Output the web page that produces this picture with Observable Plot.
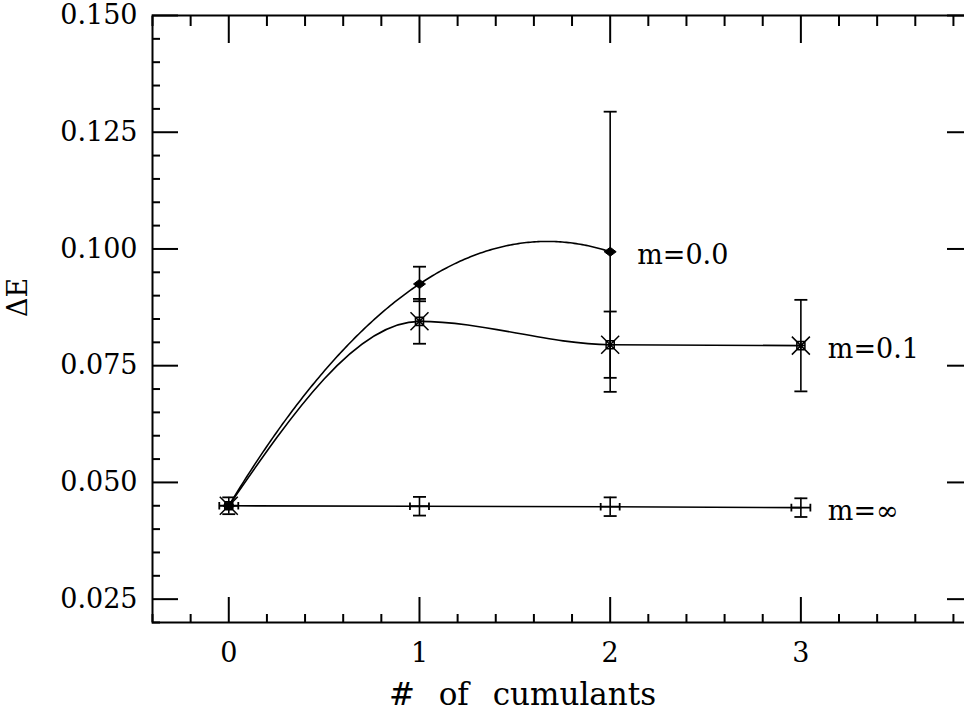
<!DOCTYPE html>
<html><head><meta charset="utf-8">
<script src="https://cdn.jsdelivr.net/npm/d3@7"></script>
<script src="https://cdn.jsdelivr.net/npm/@observablehq/plot@0.6"></script>
<style>html,body{margin:0;padding:0;background:#fff;overflow:hidden;width:964px;height:719px}</style>
</head><body><div id="chart"></div>
<script>
// ---- data ----
const cumulants = [0, 1, 2, 3];
const seriesNames = ["m=0.0", "m=0.1", "m=\u221E"];
const dE_m00 = [0.045, 0.0925, 0.0994];
const err_m00 = [0, 0.0037, 0.0300];
const dE_m01 = [0.045, 0.0845, 0.0795, 0.0793];
const err_m01 = [0, 0.0048, 0.0071, 0.0098];
const dE_minf = [0.045, 0.0449, 0.0448, 0.0446];
const err_minf = [0.0018, 0.0020, 0.0020, 0.0020];
const xMajorTicks = [0, 1, 2, 3];
const yMajorTicks = [0.025, 0.050, 0.075, 0.100, 0.125, 0.150];
const xTitle = "# of cumulants";
const yTitle = "\u0394E";

// ---- derived tables ----
const rows = (name, vals, errs) => vals.map((v, i) => ({series: name, x: cumulants[i], y: v, err: errs[i]}));
const s00 = rows(seriesNames[0], dE_m00, err_m00);
const s01 = rows(seriesNames[1], dE_m01, err_m01);
const sinf = rows(seriesNames[2], dE_minf, err_minf);
const all = [...s00, ...s01, ...sinf];
const withErr = all.filter(d => d.err > 0);
const caps = withErr.flatMap(d => [{x: d.x, y: d.y - d.err}, {x: d.x, y: d.y + d.err}]);
const lastPoints = [s00, s01, sinf].map(s => s[s.length - 1]);
const xMinorTicks = d3.range(-2, 20).map(k => k / 5).filter(v => !Number.isInteger(v));
const yMinorTicks = d3.range(4, 31).filter(k => k % 5 !== 0).map(k => k / 200);

// ---- custom curve: polynomial through all points ----
function polyCurve(context) {
  let xs = [], ys = [];
  return {
    areaStart() {}, areaEnd() {},
    lineStart() { xs = []; ys = []; },
    point(x, y) { xs.push(+x); ys.push(+y); },
    lineEnd() {
      const n = xs.length;
      if (!n) return;
      const L = t => {
        let s = 0;
        for (let i = 0; i < n; i++) {
          let p = ys[i];
          for (let j = 0; j < n; j++) if (j !== i) p *= (t - xs[j]) / (xs[i] - xs[j]);
          s += p;
        }
        return s;
      };
      context.moveTo(xs[0], ys[0]);
      const a = xs[0], b = xs[n - 1];
      const steps = Math.max(1, Math.ceil(Math.abs(b - a) / 2));
      for (let k = 1; k <= steps; k++) {
        const t = a + (b - a) * k / steps;
        context.lineTo(t, L(t));
      }
    }
  };
}

// ---- custom symbols ----
const rad = size => Math.sqrt(size / Math.PI);
const diamondWide = {draw(c, size) { const r = rad(size), h = r * 0.75; c.moveTo(-r, 0); c.lineTo(0, -h); c.lineTo(r, 0); c.lineTo(0, h); c.closePath(); }};
const squareX = {draw(c, size) { const r = rad(size), s = r * 0.45;
  c.moveTo(-s, -s); c.lineTo(s, -s); c.lineTo(s, s); c.lineTo(-s, s); c.closePath();
  c.moveTo(-s, 0); c.lineTo(s, 0); c.moveTo(0, -s); c.lineTo(0, s);
  c.moveTo(-r, -r); c.lineTo(r, r); c.moveTo(-r, r); c.lineTo(r, -r); }};
const hSerif = {draw(c, size) { const r = rad(size), h = r * 0.4;
  c.moveTo(-r, 0); c.lineTo(r, 0); c.moveTo(-r, -h); c.lineTo(-r, h); c.moveTo(r, -h); c.lineTo(r, h); }};
const hCap = {draw(c, size) { const r = rad(size); c.moveTo(-r, 0); c.lineTo(r, 0); }};

const FONT = "DejaVu Serif";
const chart = Plot.plot({
  width: 975, height: 719,
  marginLeft: 152, marginRight: 3, marginTop: 15, marginBottom: 97,
  style: {fontFamily: FONT, fontSize: "27px", background: "#fff", color: "#000"},
  x: {domain: [-0.4, 3.9], axis: null},
  y: {domain: [0.020, 0.150], axis: null},
  marks: [
    // axes: ticks inward on all four sides
    Plot.axisX(xMajorTicks, {anchor: "bottom", tickSize: -25, tickPadding: 45, tickFormat: d => String(d), label: null, fontSize: 27, strokeWidth: 2}),
    Plot.axisX(xMinorTicks, {anchor: "bottom", tickSize: -8, tickFormat: () => "", label: null, strokeWidth: 2}),
    Plot.axisX(xMajorTicks, {anchor: "top", tickSize: -27, tickFormat: () => "", label: null, strokeWidth: 2}),
    Plot.axisX(xMinorTicks, {anchor: "top", tickSize: -10, tickFormat: () => "", label: null, strokeWidth: 2}),
    Plot.axisY(yMajorTicks, {anchor: "left", tickSize: -26, tickPadding: 41, tickFormat: d3.format(".3f"), label: null, fontSize: 27, strokeWidth: 2}),
    Plot.axisY(yMinorTicks, {anchor: "left", tickSize: -8, tickFormat: () => "", label: null, strokeWidth: 2}),
    Plot.axisY(yMajorTicks, {anchor: "right", tickSize: -26, tickFormat: () => "", label: null, strokeWidth: 2}),
    Plot.axisY(yMinorTicks, {anchor: "right", tickSize: -8, tickFormat: () => "", label: null, strokeWidth: 2}),
    Plot.frame({stroke: "#000", strokeWidth: 2}),
    // curves
    Plot.line(s00, {x: "x", y: "y", curve: polyCurve, stroke: "#000", strokeWidth: 1.6}),
    Plot.line(s01, {x: "x", y: "y", curve: "monotone-x", stroke: "#000", strokeWidth: 1.6}),
    Plot.line(sinf, {x: "x", y: "y", curve: "linear", stroke: "#000", strokeWidth: 1.6}),
    // error bars
    Plot.ruleX(withErr, {x: "x", y1: d => d.y - d.err, y2: d => d.y + d.err, stroke: "#000", strokeWidth: 1.6}),
    Plot.dot(caps, {x: "x", y: "y", symbol: hCap, r: 6.5, stroke: "#000", strokeWidth: 1.8, fill: "none"}),
    // markers
    Plot.dot(sinf, {x: "x", y: "y", symbol: hSerif, r: 9.5, stroke: "#000", strokeWidth: 1.8, fill: "none"}),
    Plot.dot(s01, {x: "x", y: "y", symbol: squareX, r: 9, stroke: "#000", strokeWidth: 1.5, fill: "none"}),
    Plot.dot(s00, {x: "x", y: "y", symbol: diamondWide, r: 6, stroke: "#000", strokeWidth: 1, fill: "#000"}),
    // series labels
    Plot.text(lastPoints, {x: "x", y: "y", text: "series", textAnchor: "start", dx: 27, dy: 4, fontSize: 27, fontFamily: FONT, fill: "#000"}),
    // axis titles
    Plot.text([xTitle], {frameAnchor: "bottom", dx: -40, dy: 82, fontSize: 31, fontFamily: FONT, fill: "#000", letterSpacing: 1, className: "xtitle"}),
    Plot.text([yTitle], {frameAnchor: "left", rotate: -90, dx: -134, dy: -2, fontSize: 27, fontFamily: FONT, fill: "#000"})
  ]
});
chart.style.maxWidth = "none";
chart.style.width = "975px";
chart.style.height = "719px";
d3.select(chart).selectAll("text").filter(function() { return this.textContent === xTitle; }).style("word-spacing", "14px");
document.getElementById("chart").appendChild(chart);
</script>
</body></html>
